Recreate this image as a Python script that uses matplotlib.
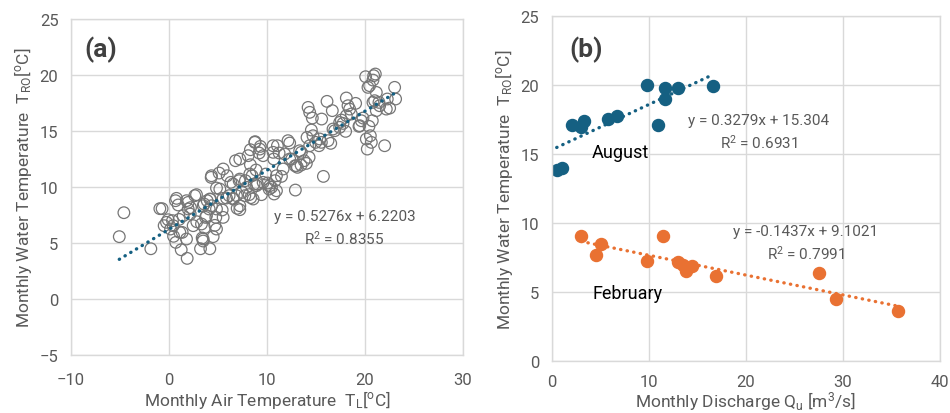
import numpy as np
import matplotlib
matplotlib.use('Agg')
import matplotlib.pyplot as plt

plt.rcParams['font.family'] = ['Roboto', 'DejaVu Sans']
plt.rcParams['mathtext.fontset'] = 'custom'
plt.rcParams['mathtext.rm'] = 'Roboto'
plt.rcParams['mathtext.it'] = 'Roboto:italic'

# (a) monthly air temperature vs water temperature
air_temp = [-5.07, -4.6, -1.85, -0.93, -0.7, -0.49, -0.08, 0.16, 0.36, 0.47, 0.67, 0.77, 0.7,
            1.04, 1.25, 1.35, 1.86, 1.79, 1.96, 2.2, 2.17, 2.81, 2.84, 3.22, 3.39, 3.49, 3.59,
            3.73, 3.9, 4.1, 3.63, 4.17, 4.51, 4.31, 4.24, 4.68, 4.78, 4.85, 5.12, 5.43, 5.53,
            5.87, 5.94, 6.14, 6.31, 6.55, 6.79, 6.89, 6.96, 7.23, 7.16, 7.47, 7.74, 7.8, 8.18,
            8.31, 8.35, 8.31, 8.48, 8.69, 8.79, 8.89, 9.03, 9.44, 9.2, 9.33, 9.61, 9.88, 10.08,
            10.22, 10.46, 10.62, 10.69, 10.83, 10.73, 10.97, 11.07, 11.24, 11.48, 11.81, 12.32,
            12.53, 12.9, 12.87, 13.11, 13.34, 13.48, 13.79, 14.02, 14.3, 14.09, 14.2, 14.36,
            14.63, 14.53, 14.97, 15.31, 15.55, 15.58, 15.76, 16.13, 16.23, 16.51, 16.67, 16.91,
            17.42, 17.59, 17.76, 18.03, 18.1, 18.27, 18.61, 19.05, 19.39, 19.63, 20.07, 20.24,
            20.31, 20.41, 20.55, 20.65, 20.82, 20.89, 21.06, 21.16, 21.43, 22.01, 22.28, 22.52,
            23.03, 23.13, 20.99, 20.75, 19.8,
            0.94, 1.45, 1.96, 2.64, 3.49, 4.17, 4.34, 4.85, 3.83, 3.32, 5.19, 6.55, 7.23, 7.91,
            8.25, 8.93, 9.61, 10.29, 10.97, 11.65, 12.32, 13.0, 13.51, 14.36, 14.7, 15.38, 16.74,
            17.42, 18.1, 18.44, 19.46, 20.14, 20.82, 21.5, 22.18, 20.48, 21.16, 5.53, 4.34, 9.27,
            8.76, 6.55, 7.23, 8.59, 1.11, 0.43, -0.25, 3.49, 2.47, 1.79, 4.85, 5.53, 7.23, 8.08,
            10.63, 12.15]
water_temp = [5.57, 7.71, 4.49, 8.07, 8.07, 6.55, 7.08, 6.25, 7.0, 5.6, 8.78, 8.99, 5.06,
              7.11, 4.4, 5.95, 3.63, 8.78, 8.04, 8.16, 7.59, 9.32, 6.9, 4.49, 5.45, 5.18, 8.48,
              7.29, 8.78, 8.04, 6.37, 4.49, 5.57, 10.86, 8.9, 6.58, 7.29, 9.91, 11.25, 7.95, 8.99,
              9.02, 11.01, 9.23, 10.42, 8.99, 12.35, 9.23, 8.1, 7.98, 10.57, 9.52, 9.23, 10.57, 9.32,
              11.99, 9.05, 13.33, 11.01, 10.27, 14.05, 11.52, 10.27, 9.32, 13.04, 13.63, 12.8, 11.16,
              10.36, 9.82, 9.97, 13.69, 12.5, 10.57, 9.38, 9.67, 13.69, 13.04, 10.95, 12.95, 13.93,
              12.5, 9.73, 11.9, 11.76, 13.24, 11.96, 12.35, 12.11, 12.65, 14.43, 17.11, 16.67,
              16.16, 15.09, 13.99, 13.69, 13.99, 16.07, 10.95, 17.65, 14.14, 13.9, 16.82, 15.03,
              15.33, 15.98, 15.68, 14.97, 17.95, 17.26, 16.52, 17.47, 15.42, 15.92, 19.85, 13.39,
              18.9, 15.42, 14.58, 13.99, 19.55, 19.94, 20.09, 16.82, 17.56, 13.69, 17.86, 17.05,
              18.9, 17.86, 17.71, 15.92, 16.16,
              8.4, 7.44, 8.63, 9.23, 8.33, 8.93, 8.33, 8.04, 7.44, 6.7, 9.82, 10.27, 10.71, 9.97,
              11.16, 10.12, 10.42, 10.12, 11.01, 11.61, 12.5, 11.9, 13.1, 13.69, 14.58, 14.29, 15.18,
              15.77, 16.37, 16.96, 15.48, 14.29, 17.56, 17.26, 16.96, 19.05, 18.45, 11.61, 11.01, 13.39,
              13.99, 8.93, 8.33, 8.93, 5.95, 6.55, 6.85, 5.36, 6.55, 5.36, 6.25, 7.29, 12.5, 12.8,
              13.1, 14.14]
fit_a = (0.5276, 6.2203)

# (b) monthly discharge vs water temperature
aug_q = [0.52, 1.1, 2.06, 3.0, 3.33, 5.84, 6.7, 9.85, 11.0, 11.7, 11.7, 13.05, 16.6]
aug_t = [13.86, 13.96, 17.12, 16.97, 17.4, 17.53, 17.72, 20.0, 17.12, 19.0, 19.77, 19.8, 19.9]
feb_q = [3.06, 5.08, 4.57, 9.85, 11.43, 13.0, 13.56, 13.87, 14.49, 16.9, 27.5, 29.3, 35.7]
feb_t = [9.06, 8.51, 7.69, 7.28, 9.09, 7.16, 6.99, 6.49, 6.87, 6.17, 6.41, 4.46, 3.59]
fit_aug = (0.3279, 15.304)
fit_feb = (-0.1437, 9.1021)

blue = '#156082'
orange = '#E97132'
grid_c = '#d9d9d9'
txt_c = '#595959'

fig = plt.figure(figsize=(9.5, 4.14), dpi=100)
ax1 = fig.add_axes([0.0747, 0.140, 0.4126, 0.8116])
ax2 = fig.add_axes([0.5807, 0.1256, 0.4087, 0.8333])

def style(ax, xpad):
    ax.grid(True, color=grid_c, lw=1.0)
    ax.set_axisbelow(True)
    for s in ax.spines.values():
        s.set_color(grid_c)
        s.set_linewidth(1.0)
    ax.tick_params(length=0, labelsize=12, labelcolor=txt_c)
    ax.tick_params(axis='x', pad=xpad)
    ax.tick_params(axis='y', pad=9)

def trend(ax, xs, coef, color):
    x0, x1 = min(xs), max(xs)
    xx = np.array([x0, x1])
    ax.plot(xx, coef[0] * xx + coef[1], color=color, lw=2.4,
            linestyle=(0, (0.1, 1.9)), dash_capstyle='round', zorder=3)

# panel (a)
style(ax1, 12)
ax1.scatter(air_temp, water_temp, s=70, facecolors='none', edgecolors='#767676',
            linewidths=0.9, zorder=2)
trend(ax1, air_temp, fit_a, blue)
ax1.set_xlim(-10, 30)
ax1.set_ylim(-5, 25)
ax1.set_xticks(np.arange(-10, 31, 10))
ax1.set_yticks(np.arange(-5, 26, 5))
ax1.text(-7.0, 22.3, '(a)', fontsize=19, fontweight='bold', color='#404040',
         ha='center', va='center')
ax1.text(17.9, 7.44, 'y = 0.5276x + 6.2203', fontsize=11, color=txt_c, ha='center', va='center')
ax1.text(17.9, 5.5, 'R$^2$ = 0.8355', fontsize=11, color=txt_c, ha='center', va='center')
ax1.set_xlabel(r'Monthly Air Temperature  T$_{\mathrm{L}}$[$^{\mathrm{o}}$C]',
               fontsize=12.5, color=txt_c, labelpad=1)
ax1.set_ylabel(r'Monthly Water Temperature  T$_{\mathrm{RO}}$[$^{\mathrm{o}}$C]',
               fontsize=12.5, color=txt_c, labelpad=4)

# panel (b)
style(ax2, 9)
ax2.scatter(aug_q, aug_t, s=75, color=blue, zorder=2)
ax2.scatter(feb_q, feb_t, s=75, color=orange, zorder=2)
trend(ax2, aug_q, fit_aug, blue)
trend(ax2, feb_q, fit_feb, orange)
ax2.set_xlim(0, 40)
ax2.set_ylim(0, 25)
ax2.set_xticks(np.arange(0, 41, 10))
ax2.set_yticks(np.arange(0, 26, 5))
ax2.text(3.6, 22.6, '(b)', fontsize=19, fontweight='bold', color='#404040',
         ha='center', va='center')
ax2.text(21.3, 17.48, 'y = 0.3279x + 15.304', fontsize=11, color=txt_c, ha='center', va='center')
ax2.text(21.3, 15.89, 'R$^2$ = 0.6931', fontsize=11, color=txt_c, ha='center', va='center')
ax2.text(26.2, 9.45, 'y = -0.1437x + 9.1021', fontsize=11, color=txt_c, ha='center', va='center')
ax2.text(26.2, 7.88, 'R$^2$ = 0.7991', fontsize=11, color=txt_c, ha='center', va='center')
ax2.text(7.1, 15.12, 'August', fontsize=13, color='black', ha='center', va='center')
ax2.text(7.8, 4.92, 'February', fontsize=13, color='black', ha='center', va='center')
ax2.set_xlabel(r'Monthly Discharge Q$_{\mathrm{u}}$ [m$^3$/s]',
               fontsize=12.5, color=txt_c, labelpad=1)
ax2.set_ylabel(r'Monthly Water Temperature  T$_{\mathrm{RO}}$[$^{\mathrm{o}}$C]',
               fontsize=12.5, color=txt_c, labelpad=4)

fig.savefig('out.png', dpi=100)
